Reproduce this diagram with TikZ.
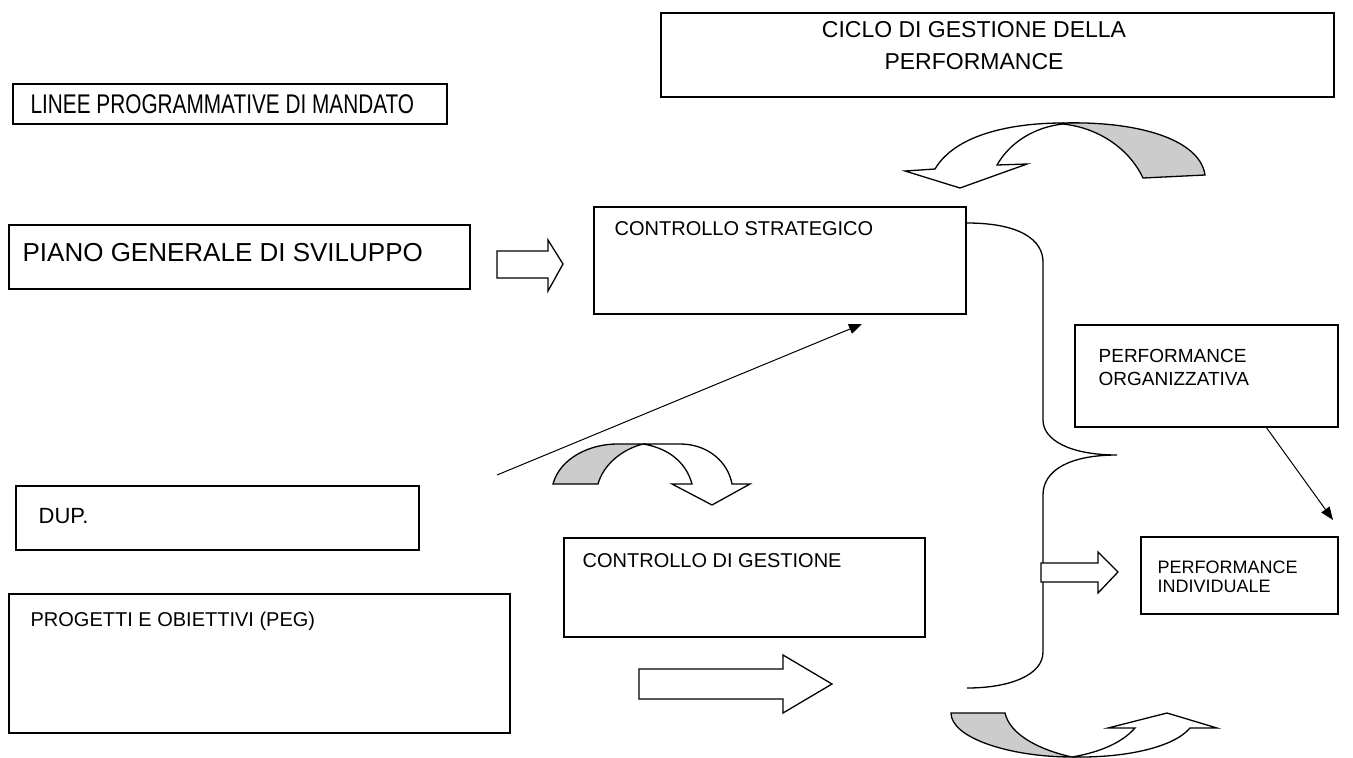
\documentclass[tikz,border=0pt]{standalone}
\usepackage{fontspec}
\setmainfont{Liberation Sans}
\usetikzlibrary{arrows.meta}
\definecolor{tailgray}{RGB}{204,204,204}
\begin{document}
\begin{tikzpicture}[x=1pt,y=-1pt,line width=1.3pt,line join=miter,
  box/.style={draw,rectangle,inner sep=0pt},
  bigtxt/.style={inner sep=0pt,anchor=west,font=\fontsize{22}{26}\selectfont},
  midtxt/.style={inner sep=0pt,font=\fontsize{20}{23}\selectfont},
  blockarrow/.style={draw,fill=white},
  curvewhite/.style={draw,fill=white},
  curvegray/.style={draw,fill=tailgray},
  thin/.style={line width=1pt}]
\useasboundingbox (0,0) rectangle (1353,758);

% boxes
\node[box,minimum width=673,minimum height=84] (ciclo) at (997.5,55) {};
\node[inner sep=0pt,align=center,font=\fontsize{23}{32}\selectfont] (ciclo-t) at (974,46) {CICLO DI GESTIONE DELLA\\PERFORMANCE};

\node[box,minimum width=434,minimum height=40] (linee) at (230,104) {};
\node[inner sep=0pt,anchor=west,font=\fontsize{27}{30}\selectfont] (linee-t) at (30,104) {\scalebox{0.77}[1]{LINEE PROGRAMMATIVE DI MANDATO}};

\node[box,minimum width=461,minimum height=64] (piano) at (239.5,257) {};
\node[bigtxt,font=\fontsize{26}{30}\selectfont] (piano-t) at (22,253) {PIANO GENERALE DI SVILUPPO};

\node[box,minimum width=372,minimum height=107] (cstrat) at (780,260.5) {};
\node[midtxt,anchor=west] (cstrat-t) at (614,229) {CONTROLLO STRATEGICO};

\node[box,minimum width=263,minimum height=102] (porg) at (1206.5,376) {};
\node[midtxt,anchor=north west,align=left,font=\fontsize{19}{23}\selectfont] (porg-t) at (1098,349) {PERFORMANCE\\ORGANIZZATIVA};

\node[box,minimum width=403,minimum height=64] (dup) at (217.5,518) {};
\node[bigtxt] (dup-t) at (38,516) {DUP.};

\node[box,minimum width=361,minimum height=99] (cgest) at (744.5,587.5) {};
\node[midtxt,anchor=west] (cgest-t) at (582,561) {CONTROLLO DI GESTIONE};

\node[box,minimum width=197,minimum height=77] (pind) at (1239.5,575.5) {};
\node[inner sep=0pt,anchor=north west,align=left,font=\fontsize{18}{19}\selectfont] (pind-t) at (1157,560) {PERFORMANCE\\INDIVIDUALE};

\node[box,minimum width=501,minimum height=139] (prog) at (259.5,663.5) {};
\node[bigtxt,font=\fontsize{20}{24}\selectfont] (prog-t) at (30,621) {PROGETTI E OBIETTIVI (PEG)};

% block arrows
\draw[blockarrow] (497,251) -- (548,251) -- (548,240) -- (563,264) -- (548,291) -- (548,278) -- (497,278) -- cycle;
\draw[blockarrow] (639,669) -- (783,669) -- (783,655) -- (832,684) -- (783,713) -- (783,699) -- (639,699) -- cycle;

% brace
\coordinate (brtop) at (967,223);
\coordinate (brtip) at (1117,455);
\coordinate (brbot) at (967,688);
\draw (brtop) .. controls (1020,223) and (1043,240) .. (1043,262) -- (1043,420)
  .. controls (1043,440) and (1070,455) .. (brtip)
  .. controls (1070,455) and (1043,470) .. (1043,495) -- (1043,652)
  .. controls (1043,675) and (1010,688) .. (brbot);

\draw[blockarrow] (1041,563) -- (1098,563) -- (1098,552) -- (1118,572) -- (1098,593) -- (1098,582) -- (1041,582) -- cycle;

% line arrows
\coordinate (l1s) at (497,475);
\coordinate (l1e) at (862,324);
\draw[thin,-{Triangle[length=13pt,width=10pt]}] (l1s) -- (l1e);
\coordinate (l2s) at (1266,427);
\coordinate (l2e) at (1333,520);
\draw[thin,-{Triangle[length=13pt,width=10pt]}] (l2s) -- (l2e);

% top curved arrow
\draw[curvegray] (1063,123) .. controls (1140,121) and (1200,140) .. (1205,175) -- (1143,178)
  .. controls (1130,150) and (1100,128) .. (1063,124) -- cycle;
\draw[curvewhite] (1063,123) .. controls (1010,123) and (955,135) .. (935,169) -- (905,171) -- (960,188) -- (1027,164) -- (997,165)
  .. controls (1010,142) and (1035,127) .. (1063,124) -- cycle;

% middle curved arrow
\draw[curvegray] (553,484) .. controls (560,458) and (590,444) .. (617,444) -- (643,444)
  .. controls (620,450) and (603,466) .. (598,484) -- cycle;
\draw[curvewhite] (643,444) -- (680,444) .. controls (708,444) and (728,462) .. (732,484) -- (750,484) -- (712,505) -- (672,484) -- (692,484)
  .. controls (686,462) and (668,448) .. (643,444) -- cycle;

% bottom curved arrow
\draw[curvegray] (951,713) -- (1005,713) .. controls (1010,735) and (1040,750) .. (1072,757)
  .. controls (1010,757) and (951,738) .. (951,713) -- cycle;
\draw[curvewhite] (1072,757) .. controls (1130,758) and (1175,746) .. (1190,728) -- (1217,728) -- (1167,713) -- (1108,728) -- (1135,728)
  .. controls (1120,745) and (1095,753) .. (1072,757) -- cycle;
\end{tikzpicture}
\end{document}
